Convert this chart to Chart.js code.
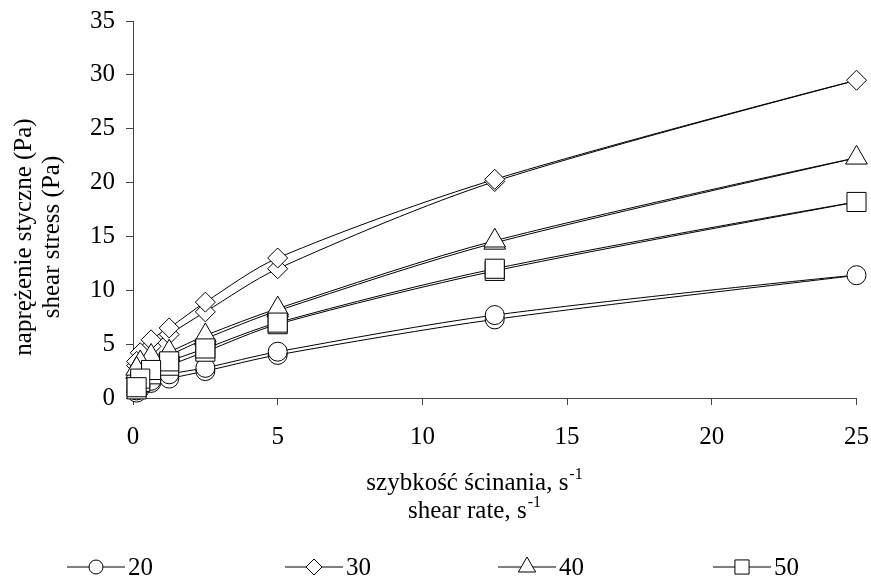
<!DOCTYPE html>
<html>
<head>
<meta charset="utf-8">
<script src="https://cdn.jsdelivr.net/npm/chart.js"></script>
<style>
  body { margin: 0; background: #fff; }
  #wrap { width: 871px; height: 581px; }
</style>
</head>
<body>
<div id="wrap"><canvas id="chart" width="871" height="581"></canvas></div>
<script>
// shear rate sequence, up to 25 1/s and back down again
const shearRate = [0.125, 0.25, 0.625, 1.25, 2.5, 5, 12.5, 25, 12.5, 5, 2.5, 1.25, 0.625, 0.25, 0.125];

// shear stress (Pa) for each temperature, same order as shearRate
const temps = ['20', '30', '40', '50'];
const stress20 = [0.5, 0.9, 1.4, 1.8, 2.5, 4.0, 7.3, 11.4, 7.7, 4.3, 2.8, 2.2, 1.6, 1.1, 0.7];
const stress30 = [3.0, 3.6, 4.8, 5.9, 8.0, 12.0, 20.1, 29.5, 20.3, 13.0, 8.9, 6.5, 5.4, 4.2, 3.4];
const stress40 = [2.4, 3.0, 3.6, 4.0, 5.5, 8.1, 14.4, 22.3, 14.6, 8.3, 5.8, 4.3, 3.9, 3.3, 2.7];
const stress50 = [0.8, 1.5, 2.2, 3.0, 4.3, 6.85, 11.8, 18.2, 12.0, 7.0, 4.6, 3.4, 2.6, 1.8, 1.0];

const xTicks = [0, 5, 10, 15, 20, 25];
const yTicks = [0, 5, 10, 15, 20, 25, 30, 35];

const yTitle = ['naprężenie styczne (Pa)', 'shear stress (Pa)'];
const xTitle = [['szybkość ścinania, s', '-1'], ['shear rate, s', '-1']];

const FONT = '"Liberation Serif", "Times New Roman", serif';
const styles = ['circle', 'rectRot', 'triangle', 'rect'];
const radii = [9.5, 10, 12.5, 13.5];
const legendRadii = [7, 8, 10, 10];
const allStress = [stress20, stress30, stress40, stress50];

function toPoints(ys) {
    return ys.map((y, i) => ({ x: shearRate[i], y: y }));
}

let datasets = allStress.map((ys, i) => ({
    label: temps[i],
    data: toPoints(ys),
    showLine: true,
    fill: false,
    clip: false,
    tension: 0.3,
    borderColor: '#000',
    borderWidth: 1,
    pointStyle: styles[i],
    pointRadius: radii[i],
    pointHoverRadius: radii[i],
    pointBackgroundColor: '#fff',
    pointBorderColor: '#000',
    pointBorderWidth: 1,
    order: 4 - i
}));

function marker(ctx, style, x, y, r) {
    ctx.beginPath();
    if (style === 'circle') {
        ctx.arc(x, y, r, 0, Math.PI * 2);
    } else if (style === 'rectRot') {
        ctx.moveTo(x - r, y);
        ctx.lineTo(x, y - r);
        ctx.lineTo(x + r, y);
        ctx.lineTo(x, y + r);
        ctx.closePath();
    } else if (style === 'triangle') {
        ctx.moveTo(x, y - r);
        ctx.lineTo(x + 0.866 * r, y + r / 2);
        ctx.lineTo(x - 0.866 * r, y + r / 2);
        ctx.closePath();
    } else {
        let h = r * Math.SQRT1_2;
        ctx.rect(x - h, y - h, 2 * h, 2 * h);
    }
    ctx.fillStyle = '#fff';
    ctx.fill();
    ctx.strokeStyle = '#000';
    ctx.lineWidth = 1;
    ctx.stroke();
}

function textWithSup(ctx, parts, cx, y) {
    ctx.font = '25px ' + FONT;
    let w1 = ctx.measureText(parts[0]).width;
    ctx.font = '16px ' + FONT;
    let w2 = ctx.measureText(parts[1]).width;
    let x0 = cx - (w1 + w2) / 2;
    ctx.textAlign = 'left';
    ctx.textBaseline = 'alphabetic';
    ctx.font = '25px ' + FONT;
    ctx.fillText(parts[0], x0, y);
    ctx.font = '16px ' + FONT;
    ctx.fillText(parts[1], x0 + w1 + 1, y - 11);
}

// axis titles and legend drawn by hand (two-line titles, superscripts)
const extraText = {
    id: 'extraText',
    afterDraw(chart) {
        const ctx = chart.ctx;
        ctx.save();
        ctx.fillStyle = '#000';

        ctx.save();
        ctx.font = '25px ' + FONT;
        ctx.translate(0, 237);
        ctx.rotate(-Math.PI / 2);
        ctx.textAlign = 'center';
        ctx.textBaseline = 'alphabetic';
        ctx.fillText(yTitle[0], 0, 31);
        ctx.fillText(yTitle[1], 0, 59);
        ctx.restore();

        ctx.fillStyle = '#000';
        textWithSup(ctx, xTitle[0], 474, 490);
        textWithSup(ctx, xTitle[1], 474, 518);

        const legendX = [96, 314, 527, 742];
        const ly = 567;
        for (let i = 0; i < temps.length; i++) {
            let mx = legendX[i];
            ctx.beginPath();
            ctx.moveTo(mx - 29, ly);
            ctx.lineTo(mx + 29, ly);
            ctx.strokeStyle = '#000';
            ctx.lineWidth = 1;
            ctx.stroke();
            marker(ctx, styles[i], mx, ly, legendRadii[i]);
            ctx.fillStyle = '#000';
            ctx.font = '25px ' + FONT;
            ctx.textAlign = 'left';
            ctx.textBaseline = 'middle';
            ctx.fillText(temps[i], mx + 32, ly + 1);
        }
        ctx.restore();
    }
};

const tickFont = { family: FONT, size: 25 };

let ctx = document.getElementById('chart').getContext('2d');
let chart = new Chart(ctx, {
    type: 'scatter',
    data: { datasets: datasets },
    options: {
        responsive: false,
        animation: false,
        layout: { padding: { top: 21, right: 14, left: 0, bottom: 0 } },
        plugins: {
            legend: { display: false },
            tooltip: { enabled: false }
        },
        scales: {
            x: {
                type: 'linear',
                min: xTicks[0],
                max: xTicks[xTicks.length - 1],
                afterBuildTicks(s) { s.ticks = xTicks.map(v => ({ value: v })); },
                afterFit(s) { s.height = 183; s.paddingLeft = 0; s.paddingRight = 0; },
                ticks: { color: '#000', font: tickFont, padding: 17, maxRotation: 0 },
                grid: { drawOnChartArea: false, drawTicks: true, tickLength: 7, color: '#444' },
                border: { color: '#444', width: 1 }
            },
            y: {
                min: yTicks[0],
                max: yTicks[yTicks.length - 1],
                afterBuildTicks(s) { s.ticks = yTicks.map(v => ({ value: v })); },
                afterFit(s) { s.width = 133; s.paddingTop = 0; s.paddingBottom = 0; },
                ticks: { color: '#000', font: tickFont, padding: 11 },
                grid: { drawOnChartArea: false, drawTicks: true, tickLength: 7, color: '#444' },
                border: { color: '#444', width: 1 }
            }
        }
    },
    plugins: [extraText]
});
</script>
</body>
</html>
